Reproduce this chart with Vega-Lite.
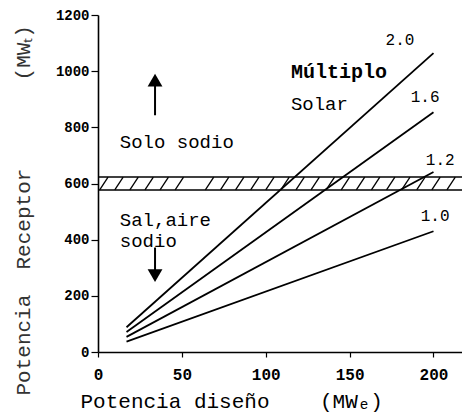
{
  "$schema": "https://vega.github.io/schema/vega-lite/v6.json",
  "width": 364,
  "height": 337,
  "autosize": {"type": "none"},
  "padding": {"left": 98, "top": 15, "right": 0, "bottom": 60},
  "background": "white",
  "config": {
    "view": {"stroke": null},
    "font": "Liberation Mono"
  },
  "datasets": {
    "lines": [
      {"multiple": "1.0", "x": 17, "y": 37},
      {"multiple": "1.0", "x": 200, "y": 430},
      {"multiple": "1.2", "x": 17, "y": 54},
      {"multiple": "1.2", "x": 200, "y": 641},
      {"multiple": "1.6", "x": 17, "y": 71},
      {"multiple": "1.6", "x": 200, "y": 854},
      {"multiple": "2.0", "x": 17, "y": 88},
      {"multiple": "2.0", "x": 200, "y": 1064}
    ],
    "band": [
      {"y": 577, "x": 0, "x2": 217},
      {"y": 623, "x": 0, "x2": 217}
    ],
    "hatch": [
      {"x": 1, "y": 577, "x2": 6, "y2": 623},
      {"x": 10, "y": 577, "x2": 15, "y2": 623},
      {"x": 19, "y": 577, "x2": 24, "y2": 623},
      {"x": 28, "y": 577, "x2": 33, "y2": 623},
      {"x": 37, "y": 577, "x2": 42, "y2": 623},
      {"x": 46, "y": 577, "x2": 51, "y2": 623},
      {"x": 64, "y": 577, "x2": 69, "y2": 623},
      {"x": 73, "y": 577, "x2": 78, "y2": 623},
      {"x": 82, "y": 577, "x2": 87, "y2": 623},
      {"x": 91, "y": 577, "x2": 96, "y2": 623},
      {"x": 100, "y": 577, "x2": 105, "y2": 623},
      {"x": 109, "y": 577, "x2": 114, "y2": 623},
      {"x": 118, "y": 577, "x2": 123, "y2": 623},
      {"x": 127, "y": 577, "x2": 132, "y2": 623},
      {"x": 136, "y": 577, "x2": 141, "y2": 623},
      {"x": 145, "y": 577, "x2": 150, "y2": 623},
      {"x": 154, "y": 577, "x2": 159, "y2": 623},
      {"x": 163, "y": 577, "x2": 168, "y2": 623},
      {"x": 172, "y": 577, "x2": 177, "y2": 623},
      {"x": 181, "y": 577, "x2": 186, "y2": 623},
      {"x": 190, "y": 577, "x2": 195, "y2": 623},
      {"x": 199, "y": 577, "x2": 204, "y2": 623},
      {"x": 208, "y": 577, "x2": 213, "y2": 623}
    ],
    "lineLabels": [
      {"text": "2.0", "x": 180, "y": 1093},
      {"text": "1.6", "x": 195, "y": 890},
      {"text": "1.2", "x": 204, "y": 665},
      {"text": "1.0", "x": 201, "y": 466}
    ],
    "notes": [
      {"text": "Solar", "x": 115, "y": 861},
      {"text": "Solo sodio", "x": 13, "y": 726},
      {"text": "Sal,aire", "x": 13, "y": 448},
      {"text": "sodio", "x": 13, "y": 374}
    ],
    "boldNotes": [
      {"text": "Múltiplo", "x": 115, "y": 975}
    ],
    "shafts": [
      {"x": 34, "y": 843, "y2": 960},
      {"x": 34, "y": 372, "y2": 290}
    ],
    "heads": [
      {"x": 34, "y": 968, "dir": "up"},
      {"x": 34, "y": 272, "dir": "down"}
    ]
  },
  "layer": [
    {
      "data": {"name": "band"},
      "mark": {"type": "rule", "color": "black", "strokeWidth": 1.4},
      "encoding": {
        "x": {"field": "x", "type": "quantitative", "scale": {"domain": [0, 217], "nice": false},
          "axis": {
            "values": [0, 50, 100, 150, 200],
            "grid": false,
            "domainColor": "black", "domainWidth": 1.6,
            "tickColor": "black", "tickSize": 5, "tickWidth": 1.2,
            "labelFont": "Liberation Mono", "labelFontSize": 16, "labelFontWeight": "bold", "labelColor": "black",
            "labelPadding": 9, "labelFlush": false,
            "title": "Potencia diseño\u00a0\u00a0\u00a0\u00a0(MWₑ)",
            "titleFont": "Liberation Mono", "titleFontSize": 21, "titleFontWeight": "normal", "titleColor": "black",
            "titleAnchor": "start", "titleAlign": "left", "titleX": -18, "titleY": 55, "titleBaseline": "alphabetic"
          }
        },
        "x2": {"field": "x2"},
        "y": {"field": "y", "type": "quantitative", "scale": {"domain": [0, 1200], "nice": false},
          "axis": {
            "values": [0, 200, 400, 600, 800, 1000, 1200],
            "format": "d",
            "grid": false,
            "domainColor": "black", "domainWidth": 1.6,
            "tickColor": "black", "tickSize": 7, "tickWidth": 1.2,
            "labelFont": "Liberation Mono", "labelFontSize": 14, "labelFontWeight": "bold", "labelColor": "black",
            "labelPadding": 2, "labelFlush": false,
            "title": "Potencia\u00a0\u00a0Receptor\u00a0\u00a0\u00a0\u00a0\u00a0\u00a0\u00a0(MWₜ)",
            "titleFont": "Liberation Mono", "titleFontSize": 21, "titleFontWeight": "normal", "titleColor": "#333",
            "titleAngle": -90, "titleAlign": "left", "titleBaseline": "alphabetic", "titleX": -69, "titleY": 380
          }
        }
      }
    },
    {
      "data": {"name": "hatch"},
      "mark": {"type": "rule", "color": "black", "strokeWidth": 1.3},
      "encoding": {
        "x": {"field": "x", "type": "quantitative"},
        "x2": {"field": "x2"},
        "y": {"field": "y", "type": "quantitative"},
        "y2": {"field": "y2"}
      }
    },
    {
      "mark": {"type": "rule", "color": "black", "strokeWidth": 1.6},
      "encoding": {"y": {"datum": 1200, "type": "quantitative"}}
    },
    {
      "data": {"name": "lines"},
      "mark": {"type": "line", "color": "black", "strokeWidth": 1.8},
      "encoding": {
        "x": {"field": "x", "type": "quantitative"},
        "y": {"field": "y", "type": "quantitative"},
        "detail": {"field": "multiple"}
      }
    },
    {
      "data": {"name": "lineLabels"},
      "mark": {"type": "text", "font": "Liberation Mono", "fontSize": 16, "color": "black", "align": "center", "baseline": "alphabetic"},
      "encoding": {
        "x": {"field": "x", "type": "quantitative"},
        "y": {"field": "y", "type": "quantitative"},
        "text": {"field": "text"}
      }
    },
    {
      "data": {"name": "notes"},
      "mark": {"type": "text", "font": "Liberation Mono", "fontSize": 19, "color": "black", "align": "left", "baseline": "alphabetic"},
      "encoding": {
        "x": {"field": "x", "type": "quantitative"},
        "y": {"field": "y", "type": "quantitative"},
        "text": {"field": "text"}
      }
    },
    {
      "data": {"name": "boldNotes"},
      "mark": {"type": "text", "font": "Liberation Mono", "fontSize": 20, "fontWeight": "bold", "color": "black", "align": "left", "baseline": "alphabetic"},
      "encoding": {
        "x": {"field": "x", "type": "quantitative"},
        "y": {"field": "y", "type": "quantitative"},
        "text": {"field": "text"}
      }
    },
    {
      "data": {"name": "shafts"},
      "mark": {"type": "rule", "color": "black", "strokeWidth": 2},
      "encoding": {
        "x": {"field": "x", "type": "quantitative"},
        "y": {"field": "y", "type": "quantitative"},
        "y2": {"field": "y2"}
      }
    },
    {
      "data": {"name": "heads"},
      "mark": {"type": "point", "filled": true, "color": "black", "opacity": 1, "size": 220},
      "encoding": {
        "x": {"field": "x", "type": "quantitative"},
        "y": {"field": "y", "type": "quantitative"},
        "shape": {"field": "dir", "type": "nominal", "scale": {"domain": ["up", "down"], "range": ["triangle-up", "triangle-down"]}, "legend": null}
      }
    }
  ]
}
